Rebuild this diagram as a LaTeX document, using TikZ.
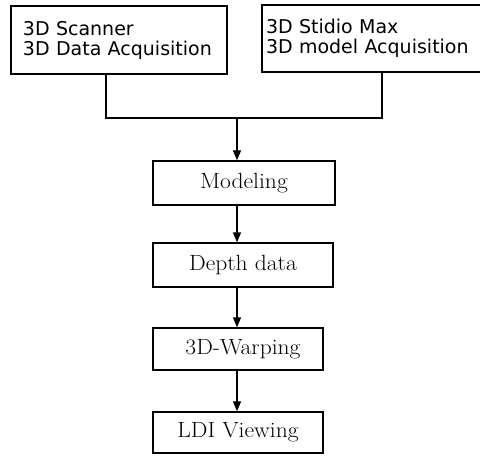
\documentclass[tikz,border=0pt]{standalone}
\usepackage{fontspec}
\newfontfamily\topfont{DejaVu Sans}
\usetikzlibrary{arrows.meta}
\newcommand{\widetext}[1]{\scalebox{1.07}[1]{#1}}
\tikzset{
  topbox/.style={draw, line width=1.3pt, rectangle, align=left, anchor=center,
     font=\topfont\fontsize{19}{20}\selectfont, inner ysep=0pt},
  stagebox/.style={draw, line width=1.3pt, rectangle, anchor=center,
     font=\fontsize{22}{24}\selectfont, inner sep=0pt},
  link/.style={line width=1.3pt},
  arr/.style={line width=1.3pt, -{Triangle[width=8pt,length=10pt]}}
}
\begin{document}
\begin{tikzpicture}[x=1pt,y=-1pt]
\useasboundingbox (0,0) rectangle (480,460);
\clip (0,0) rectangle (480,460);
\node[topbox, minimum width=216pt, minimum height=68pt, text width=192pt, inner xsep=12pt] (scan) at (119,40) {3D Scanner\\3D Data Acquisition};
\node[topbox, minimum width=220pt, minimum height=67pt, text width=212pt, inner xsep=4pt] (max) at (372,38.5) {3D Stidio Max\\3D model Acquisition};
\node[stagebox, minimum width=182pt, minimum height=44pt] (model) at (244,183) {\widetext{Modeling}};
\node[stagebox, minimum width=180pt, minimum height=44pt] (depth) at (243,265) {\widetext{Depth data}};
\node[stagebox, minimum width=170pt, minimum height=42pt] (warp) at (238,349) {\hspace*{10pt}\widetext{3D-Warping}};
\node[stagebox, minimum width=170pt, minimum height=41pt] (ldi) at (238,432.5) {\widetext{LDI Viewing}};
\coordinate (j) at (237,118);
\draw[link] ([xshift=-13pt]scan.south) |- (j);
\draw[link] ([xshift=10pt]max.south) |- (j);
\draw[arr] (j) -- (j |- model.north);
\draw[arr] (model.south -| j) -- (depth.north -| j);
\draw[arr] (depth.south -| j) -- (warp.north -| j);
\draw[arr] (warp.south -| j) -- (ldi.north -| j);
\end{tikzpicture}
\end{document}
